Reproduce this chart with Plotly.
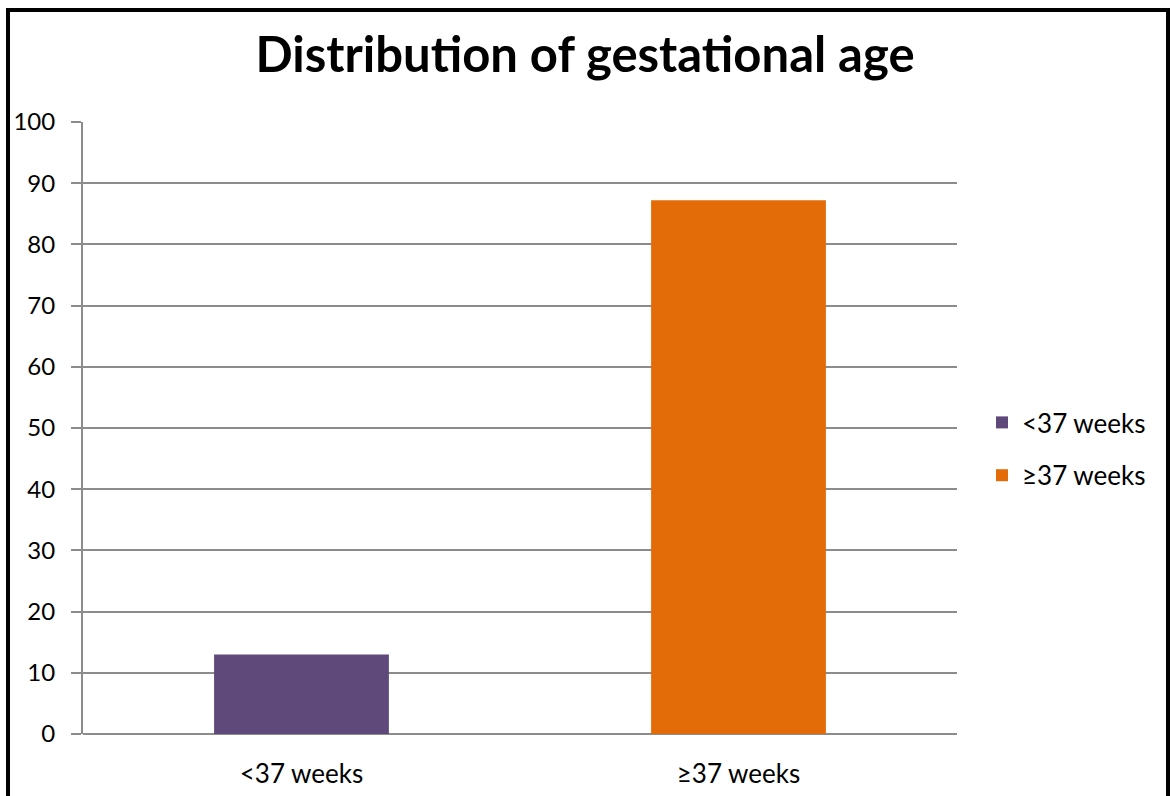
import plotly.graph_objects as go

# Share of births by gestational age group (%)
categories = ["<37 weeks", "≥37 weeks"]
values = [13, 87.2]
colors = ["#5F497A", "#E36C09"]
y_ticks = list(range(0, 101, 10))

FONT = "Lato"
TXT = 26

fig = go.Figure()
for cat, val, col in zip(categories, values, colors):
    fig.add_trace(go.Bar(
        x=[cat], y=[val], name=cat, width=0.4,
        marker=dict(color=col, line=dict(color=col, width=0)),
        legendgroup=cat,
    ))

# Outer frame of the chart area (left, top, right edges)
L, R, T, B = 83, 957, 122, 734
def px_x(p):
    return (p - L) / (R - L)
def px_y(p):
    return (B - p) / (B - T)

frame = (f"M {px_x(8)},{px_y(830)} L {px_x(8)},{px_y(10)} "
         f"L {px_x(1168)},{px_y(10)} L {px_x(1168)},{px_y(830)}")

fig.update_layout(
    width=1170, height=796,
    margin=dict(l=L, r=1170 - R, t=T, b=796 - B, pad=0, autoexpand=False),
    paper_bgcolor="white", plot_bgcolor="white",
    barmode="overlay",
    font=dict(family=FONT, size=TXT, color="black"),
    title=dict(
        text="<b>Distribution of gestational age</b>",
        x=0.5, xref="container", xanchor="center",
        y=1 - 55 / 796, yref="container", yanchor="middle",
        font=dict(family=FONT, size=49, color="black"),
    ),
    showlegend=True,
    legend=dict(
        x=px_x(982), y=px_y(449), xref="paper", yref="paper",
        xanchor="left", yanchor="middle",
        font=dict(family=FONT, size=TXT, color="black"),
        tracegroupgap=16, traceorder="grouped",
        bgcolor="rgba(0,0,0,0)",
    ),
    xaxis=dict(
        categoryorder="array", categoryarray=categories,
        showline=False, showgrid=False, ticks="",
        tickfont=dict(family=FONT, size=TXT, color="black"),
        ticklabelstandoff=22, automargin=False,
    ),
    yaxis=dict(
        range=[0, 100], tickvals=y_ticks,
        showgrid=True, gridcolor="#8C8C8C", gridwidth=2,
        showline=True, linecolor="#8C8C8C", linewidth=2,
        ticks="outside", ticklen=10, tickcolor="#8C8C8C", tickwidth=2,
        zeroline=True, zerolinecolor="#8C8C8C", zerolinewidth=2,
        tickfont=dict(family=FONT, size=24, color="black"),
        ticklabelstandoff=11, automargin=False,
    ),
    shapes=[dict(type="path", path=frame, xref="paper", yref="paper",
                 line=dict(color="black", width=4), layer="above")],
)

fig.write_html("out.html")
